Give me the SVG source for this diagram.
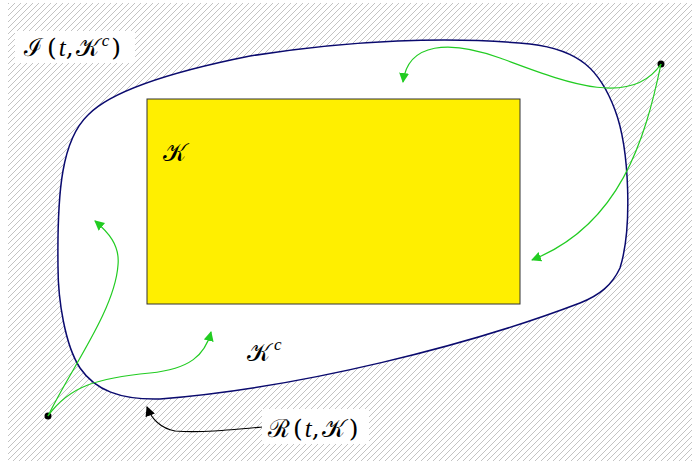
<svg xmlns="http://www.w3.org/2000/svg" width="692" height="461" viewBox="0 0 692 461">
<defs>
<pattern id="hatch" patternUnits="userSpaceOnUse" width="6" height="6">
<path d="M-1,7 L7,-1 M-1,1 L1,-1 M5,7 L7,5" stroke="#b4b4b4" stroke-width="0.8"/>
</pattern>
<marker id="ag" viewBox="0 0 10 10" refX="9" refY="5" markerWidth="10" markerHeight="10" markerUnits="userSpaceOnUse" orient="auto">
<path d="M0,0 L10,5 L0,10 Z" fill="#22cc22"/>
</marker>
<marker id="ak" viewBox="0 0 10 10" refX="9" refY="5" markerWidth="10" markerHeight="10" markerUnits="userSpaceOnUse" orient="auto">
<path d="M0,0 L10,5 L0,10 Z" fill="#000"/>
</marker>
</defs>
<style>
.math{font-family:"DejaVu Serif","Liberation Serif",serif;font-size:25px;fill:#000}
.it{font-style:italic;font-family:"Liberation Serif",serif}
.g{fill:none;stroke:#22cc22;stroke-width:1.2}
.k{fill:none;stroke:#000;stroke-width:1.1}
</style>
<rect x="0" y="0" width="692" height="461" fill="#fff"/>
<rect x="8" y="3" width="684" height="458" fill="url(#hatch)"/>
<g id="region">
<path d="M88,115 C110,92 170,72 250,56 C350,40 450,36 530,44 C580,50 600,70 615,110 C630,150 632,230 620,268 C612,285 600,295 580,303 C470,345 300,388 160,399 C120,400 95,390 80,368 C65,345 58,300 58,267 C57,190 62,140 88,115 Z" fill="#fff" stroke="#0a0a6e" stroke-width="1.5"/>
</g>
<g id="K">
<rect x="147" y="99" width="373" height="205" fill="#ffef00" stroke="#333" stroke-width="1"/>
<text class="math" x="163" y="161">𝒦</text>
</g>
<g id="Kc">
<text class="math" x="247" y="361">𝒦<tspan font-size="17" dx="4" dy="-11" class="it">c</tspan></text>
</g>
<g id="I-label">
<rect x="15" y="31" width="120" height="32" fill="#fff"/>
<text class="math" x="24" y="56">ℐ<tspan dx="4">(</tspan><tspan class="it" dx="2">t</tspan>,<tspan dx="2">𝒦</tspan><tspan font-size="17" dx="3" dy="-10" class="it">c</tspan><tspan dx="2" dy="10">)</tspan></text>
</g>
<g id="R-label">
<rect x="262" y="409" width="107" height="35" fill="#fff"/>
<text class="math" x="268" y="437">ℛ<tspan dx="3">(</tspan><tspan class="it" dx="2">t</tspan>,<tspan dx="2">𝒦</tspan><tspan dx="4">)</tspan></text>
</g>
<g id="p1"><circle cx="661" cy="64" r="3.5" fill="#000"/></g>
<g id="p2"><circle cx="48" cy="416" r="3.5" fill="#000"/></g>
<g id="connectors">
<path class="g" d="M661,64 C630,110 560,80 500,58 C450,40 408,42 403,82" marker-end="url(#ag)"/>
<path class="g" d="M661,64 C645,140 620,225 532,260" marker-end="url(#ag)"/>
<path class="g" d="M48,416 C70,370 115,310 118,265 C120,245 108,232 95,221" marker-end="url(#ag)"/>
<path class="g" d="M48,416 C70,385 100,378 150,373 C190,369 205,355 211,332" marker-end="url(#ag)"/>
<path class="k" d="M262,427 C230,430 200,433 175,431 C160,428 152,420 147,407" marker-end="url(#ak)"/>
</g>
</svg>
